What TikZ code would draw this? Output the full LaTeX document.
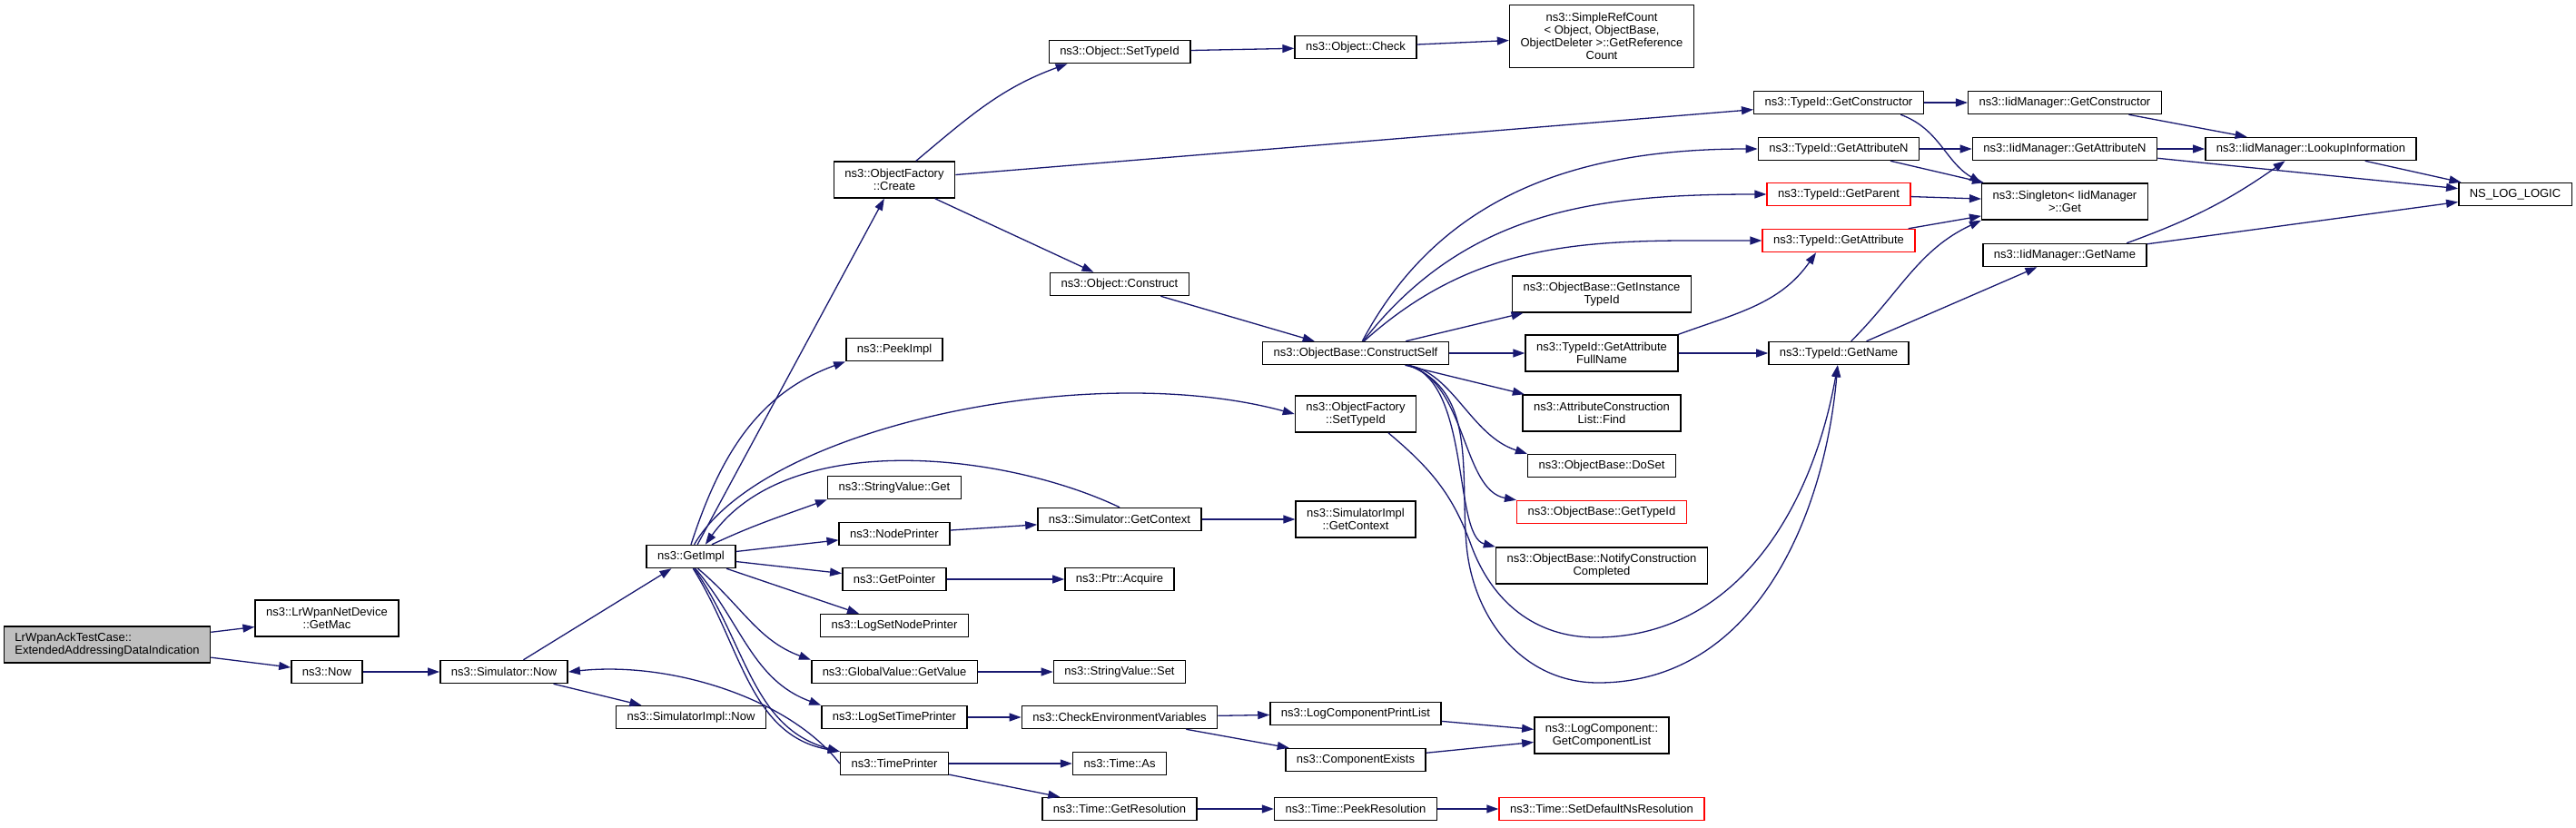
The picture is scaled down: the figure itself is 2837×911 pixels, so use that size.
\documentclass[tikz,border=0pt]{standalone}
\usepackage{fontspec}
\setmainfont{Liberation Sans}
\usepackage{tikz}
\usetikzlibrary{arrows.meta}
\definecolor{callblue}{RGB}{25,25,112}
\definecolor{rootgray}{RGB}{191,191,191}
\tikzset{
  fn/.style={draw=black, line width=0.75pt, fill=white, inner xsep=6pt, inner ysep=1.5pt,
    minimum height=12.5pt, align=center, font=\fontsize{6.5}{6.9}\selectfont},
  fntwo/.style={fn, minimum height=20pt},
  fnred/.style={fn, draw=red},
  call/.style={draw=callblue, line width=0.65pt, -{Triangle[length=6.5pt,width=4.5pt]}},
}

\begin{document}
\begin{tikzpicture}[x=0.5pt, y=-0.5pt]
        \useasboundingbox (0,0) rectangle (2837,911);

        \node[fntwo, fill=rootgray, align=left] (root) at (118,710) {LrWpanAckTestCase::\\ExtendedAddressingDataIndication};
        \node[fntwo] (getmac) at (360,681) {ns3::LrWpanNetDevice\\::GetMac};
        \node[fn] (now) at (360,740) {ns3::Now};
        \node[fn] (simnow) at (555,740) {ns3::Simulator::Now};
        \node[fn] (getimpl) at (761,613) {ns3::GetImpl};
        \node[fn] (simimplnow) at (761,790) {ns3::SimulatorImpl::Now};

        \node[fntwo] (ofcreate) at (985,198) {ns3::ObjectFactory\\::Create};
        \node[fn] (peekimpl) at (985,385) {ns3::PeekImpl};
        \node[fn] (svget) at (985,537) {ns3::StringValue::Get};
        \node[fn] (nodeprinter) at (985,588) {ns3::NodePrinter};
        \node[fn] (getpointer) at (985,638) {ns3::GetPointer};
        \node[fn] (logsetnode) at (985,689) {ns3::LogSetNodePrinter};
        \node[fn] (gvgetvalue) at (985,740) {ns3::GlobalValue::GetValue};
        \node[fn] (logsettime) at (985,790) {ns3::LogSetTimePrinter};
        \node[fn] (timeprinter) at (985,841) {ns3::TimePrinter};

        \node[fn] (objsettypeid) at (1233,57) {ns3::Object::SetTypeId};
        \node[fn] (objconstruct) at (1233,313) {ns3::Object::Construct};
        \node[fn] (simgetctx) at (1233,572) {ns3::Simulator::GetContext};
        \node[fn] (ptracquire) at (1233,638) {ns3::Ptr::Acquire};
        \node[fn] (svset) at (1233,740) {ns3::StringValue::Set};
        \node[fn] (checkenv) at (1233,790) {ns3::CheckEnvironmentVariables};
        \node[fn] (timeas) at (1233,841) {ns3::Time::As};
        \node[fn] (getres) at (1233,891) {ns3::Time::GetResolution};

        \node[fn] (objcheck) at (1493,52) {ns3::Object::Check};
        \node[fn] (constructself) at (1493,389) {ns3::ObjectBase::ConstructSelf};
        \node[fntwo] (ofsettypeid) at (1493,456) {ns3::ObjectFactory\\::SetTypeId};
        \node[fntwo] (simimplctx) at (1493,572) {ns3::SimulatorImpl\\::GetContext};
        \node[fn] (logprintlist) at (1493,786) {ns3::LogComponentPrintList};
        \node[fn] (compexists) at (1493,837) {ns3::ComponentExists};
        \node[fn] (peekres) at (1493,891) {ns3::Time::PeekResolution};

        \node[fn, minimum height=34.5pt] (refcount) at (1764,40) {ns3::SimpleRefCount\\< Object, ObjectBase,\\ ObjectDeleter >::GetReference\\Count};
        \node[fntwo] (getinsttypeid) at (1764,324) {ns3::ObjectBase::GetInstance\\TypeId};
        \node[fntwo] (getattrfull) at (1764,389) {ns3::TypeId::GetAttribute\\FullName};
        \node[fntwo] (attrfind) at (1764,455) {ns3::AttributeConstruction\\List::Find};
        \node[fn] (doset) at (1764,513) {ns3::ObjectBase::DoSet};
        \node[fnred] (obgettypeid) at (1764,564) {ns3::ObjectBase::GetTypeId};
        \node[fntwo] (notifycompl) at (1764,623) {ns3::ObjectBase::NotifyConstruction\\Completed};
        \node[fntwo] (getcomplist) at (1764,810) {ns3::LogComponent::\\GetComponentList};
        \node[fnred] (setdefres) at (1764,891) {ns3::Time::SetDefaultNsResolution};

        \node[fn] (tigetctor) at (2025,113) {ns3::TypeId::GetConstructor};
        \node[fn] (tigetattrn) at (2025,164) {ns3::TypeId::GetAttributeN};
        \node[fnred] (tigetparent) at (2025,214) {ns3::TypeId::GetParent};
        \node[fnred] (tigetattr) at (2025,265) {ns3::TypeId::GetAttribute};
        \node[fn] (tigetname) at (2025,389) {ns3::TypeId::GetName};

        \node[fn] (iidgetctor) at (2274,113) {ns3::IidManager::GetConstructor};
        \node[fn] (iidgetattrn) at (2274,164) {ns3::IidManager::GetAttributeN};
        \node[fntwo] (singleton) at (2274,222) {ns3::Singleton< IidManager\\>::Get};
        \node[fn] (iidgetname) at (2274,281) {ns3::IidManager::GetName};

        \node[fn] (lookup) at (2545,164) {ns3::IidManager::LookupInformation};
        \node[fn] (nslog) at (2770,214) {NS\_LOG\_LOGIC};

        \draw[call] (root) -- (getmac);
        \draw[call] (root) -- (now);
        \draw[call] (now) -- (simnow);
        \draw[call] (simnow) -- (getimpl);
        \draw[call] (simnow) -- (simimplnow);

        \draw[call] (getimpl) -- (ofcreate);
        \draw[call] (getimpl.north) to[out=72,in=200] (peekimpl.south west);
        \draw[call] (getimpl.75) .. controls (840,470) and (1200,395) .. (ofsettypeid.west);
        \draw[call] (getimpl.30) to[out=25,in=200] (svget.south west);
        \draw[call] (getimpl) -- (nodeprinter);
        \draw[call] (getimpl) -- (getpointer);
        \draw[call] (getimpl) -- (logsetnode);
        \draw[call] (getimpl.-60) to[out=-40,in=160] (gvgetvalue.north west);
        \draw[call] (getimpl.-70) to[out=-50,in=160] (logsettime.north west);
        \draw[call] (getimpl.-75) to[out=-55,in=165] (timeprinter.north west);
        \draw[call] (getimpl.-80) to[out=-58,in=170] (timeprinter.north west);
        \draw[call] (timeprinter.west) .. controls (870,770) and (740,728) .. (simnow.east);
        \draw[call] (simgetctx.north) .. controls (1110,500) and (870,470) .. (getimpl.40);

        \draw[call] (nodeprinter) -- (simgetctx);
        \draw[call] (getpointer) -- (ptracquire);
        \draw[call] (gvgetvalue) -- (svset);
        \draw[call] (logsettime) -- (checkenv);
        \draw[call] (timeprinter) -- (timeas);
        \draw[call] (timeprinter) -- (getres);

        \draw[call] (simgetctx) -- (simimplctx);
        \draw[call] (checkenv) -- (logprintlist);
        \draw[call] (checkenv) -- (compexists);
        \draw[call] (logprintlist) -- (getcomplist);
        \draw[call] (compexists) -- (getcomplist);
        \draw[call] (getres) -- (peekres);
        \draw[call] (peekres) -- (setdefres);

        \draw[call] (ofcreate.41) to[out=40,in=200] (objsettypeid.193);
        \draw[call] (ofcreate) -- (tigetctor);
        \draw[call] (ofcreate) -- (objconstruct);
        \draw[call] (objsettypeid) -- (objcheck);
        \draw[call] (objcheck) -- (refcount);
        \draw[call] (objconstruct) -- (constructself);

        \draw[call] (constructself.61) to[out=62,in=180] (tigetattrn.west);
        \draw[call] (constructself.58) to[out=52,in=180] (tigetparent.west);
        \draw[call] (constructself.55) to[out=42,in=180] (tigetattr.west);
        \draw[call] (constructself) -- (getinsttypeid);
        \draw[call] (constructself) -- (getattrfull);
        \draw[call] (constructself) -- (attrfind);
        \draw[call] (constructself.-13) .. controls (1600,410) and (1620,480) .. (doset.north west);
        \draw[call] (constructself.-13) .. controls (1615,420) and (1610,540) .. (obgettypeid.north west);
        \draw[call] (constructself.-13) .. controls (1620,420) and (1600,590) .. (notifycompl.north west);
        \draw[call] (constructself.-13) to[out=-20,in=95] (1615,600) to[out=-85,in=180] (1760,752) to[out=0,in=-95] (tigetname.-95);
        \draw[call] (ofsettypeid.-30) to[out=-40,in=110] (1620,600) to[out=-70,in=180] (1757,702) to[out=0,in=-100] (tigetname.-95);

        \draw[call] (getattrfull.north east) to[out=20,in=235] (tigetattr.-152);
        \draw[call] (getattrfull) -- (tigetname);

        \draw[call] (tigetctor) -- (iidgetctor);
        \draw[call] (tigetctor.-11) to[out=-20,in=150] (singleton.north west);
        \draw[call] (tigetattrn) -- (iidgetattrn);
        \draw[call] (tigetattrn) -- (singleton);
        \draw[call] (tigetparent) -- (singleton);
        \draw[call] (tigetattr) -- (singleton);
        \draw[call] (tigetname.44) to[out=45,in=205] (singleton.south west);
        \draw[call] (tigetname) -- (iidgetname);

        \draw[call] (iidgetctor) -- (lookup);
        \draw[call] (iidgetattrn) -- (lookup);
        \draw[call] (iidgetattrn) -- (nslog);
        \draw[call] (iidgetname.11) to[out=20,in=215] (lookup.-155);
        \draw[call] (iidgetname) -- (nslog);
        \draw[call] (lookup) -- (nslog);
    \end{tikzpicture}
\end{document}
